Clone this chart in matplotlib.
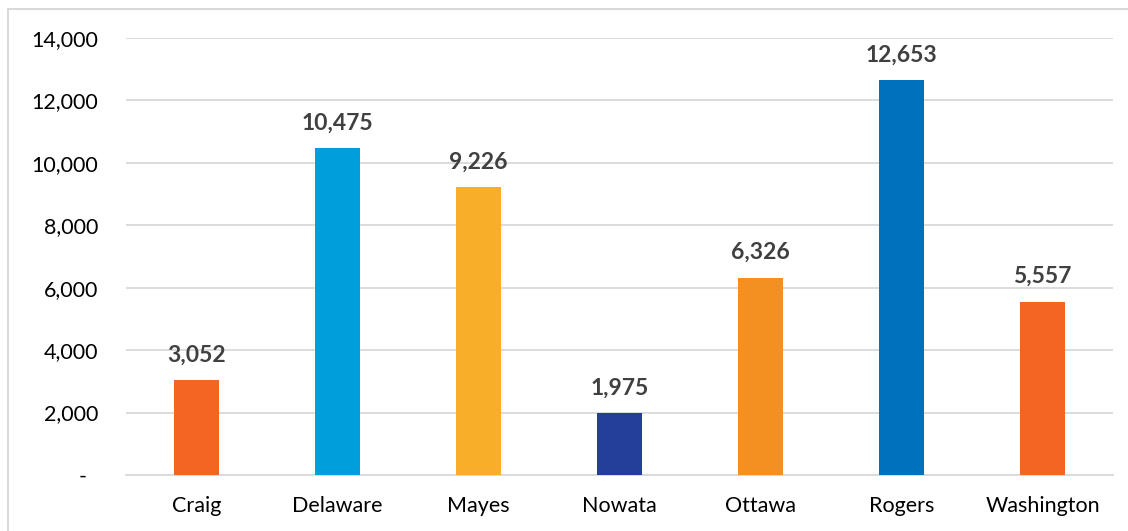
import matplotlib
matplotlib.use("Agg")
import matplotlib.pyplot as plt
from matplotlib.patches import Rectangle
from matplotlib.ticker import FuncFormatter

counties = ["Craig", "Delaware", "Mayes", "Nowata", "Ottawa", "Rogers", "Washington"]
values = [3052, 10475, 9226, 1975, 6326, 12653, 5557]
colors = ["#F26522", "#009FDB", "#F9AE2A", "#233F99", "#F39021", "#0071BC", "#F26522"]
y_ticks = [0, 2000, 4000, 6000, 8000, 10000, 12000, 14000]

plt.rcParams["font.family"] = ["Lato", "DejaVu Sans"]

W, H = 1128, 531
fig = plt.figure(figsize=(W / 100, H / 100), dpi=100)

# light frame around the chart area
frame = Rectangle((8 / W, -0.2), 1.2, 1.2 - 9 / H, transform=fig.transFigure,
                  fill=False, edgecolor="#D9D9D9", linewidth=1.5, zorder=0)
fig.patches.append(frame)

ax = fig.add_axes([126 / W, 1 - 475 / H, (1113 - 126) / W, (475 - 38) / H])

x = range(len(counties))
bars = ax.bar(x, values, width=0.32, color=colors, zorder=3)

ax.set_xlim(-0.5, len(counties) - 0.5)
ax.set_ylim(0, 14000)
ax.set_yticks(y_ticks)
# accounting-style format: zero shown as a dash with trailing padding
ax.yaxis.set_major_formatter(FuncFormatter(lambda v, p: "-  " if v == 0 else f"{int(v):,}"))
ax.set_xticks(list(x))
ax.set_xticklabels(counties)

ax.grid(axis="y", color="#D9D9D9", linewidth=1.3, zorder=0)
ax.set_axisbelow(True)
for s in ["top", "right", "left"]:
    ax.spines[s].set_visible(False)
ax.spines["bottom"].set_color("#D9D9D9")
ax.spines["bottom"].set_linewidth(1.3)
ax.tick_params(axis="both", length=0, labelsize=15.5, colors="#000000")
ax.tick_params(axis="y", pad=20)
ax.tick_params(axis="x", pad=15)

for xi, v in zip(x, values):
    ax.annotate(f"{v:,}", (xi, v), xytext=(0, 18), textcoords="offset points",
                ha="center", va="center", fontsize=16.5, fontweight="bold",
                color="#404040")

fig.savefig("out.png", dpi=100)
